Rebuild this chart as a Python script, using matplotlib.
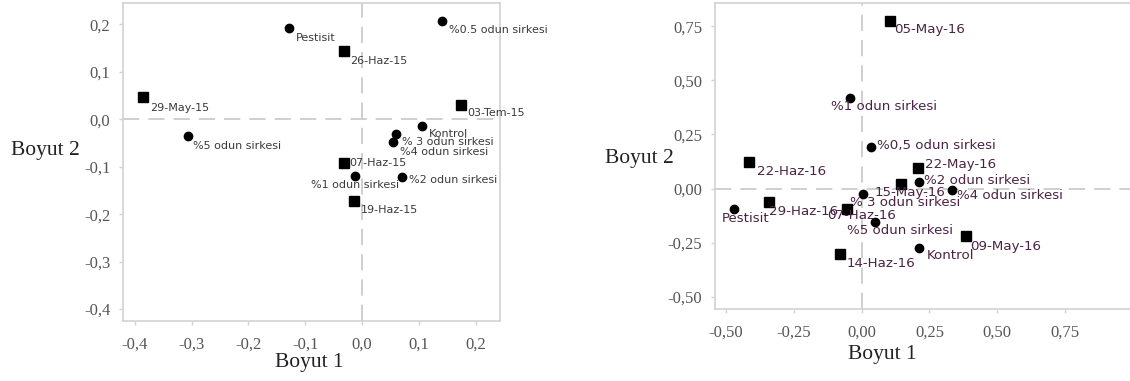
import matplotlib
matplotlib.use("Agg")
import matplotlib.pyplot as plt
from matplotlib.ticker import FuncFormatter

# ---- 2015 verisi (sol grafik) ----
tarih15 = ["29-May-15", "07-Haz-15", "19-Haz-15", "26-Haz-15", "03-Tem-15"]
tarih15_x = [-0.386, -0.032, -0.015, -0.032, 0.175]
tarih15_y = [0.048, -0.093, -0.173, 0.144, 0.030]

uygulama15 = ["Pestisit", "%0.5 odun sirkesi", "Kontrol", "% 3 odun sirkesi",
               "%4 odun sirkesi", "%5 odun sirkesi", "%1 odun sirkesi", "%2 odun sirkesi"]
uygulama15_x = [-0.128, 0.141, 0.105, 0.060, 0.055, -0.306, -0.012, 0.070]
uygulama15_y = [0.192, 0.207, -0.014, -0.032, -0.047, -0.035, -0.119, -0.121]

# ---- 2016 verisi (sag grafik) ----
tarih16 = ["05-May-16", "09-May-16", "15-May-16", "22-May-16", "07-Haz-16",
           "14-Haz-16", "22-Haz-16", "29-Haz-16"]
tarih16_x = [0.104, 0.384, 0.145, 0.207, -0.055, -0.079, -0.416, -0.343]
tarih16_y = [0.776, -0.220, 0.022, 0.094, -0.093, -0.304, 0.122, -0.060]

uygulama16 = ["%1 odun sirkesi", "%0,5 odun sirkesi", "%2 odun sirkesi", "%4 odun sirkesi",
              "% 3 odun sirkesi", "Pestisit", "%5 odun sirkesi", "Kontrol"]
uygulama16_x = [-0.043, 0.034, 0.213, 0.333, 0.006, -0.470, 0.049, 0.213]
uygulama16_y = [0.420, 0.190, 0.030, -0.007, -0.025, -0.093, -0.156, -0.273]

# etiket ofsetleri (piksel, noktaya gore)
ofset15_t = [(7, -11), (5, 0), (7, -9), (6, -10), (6, -8)]
ofset15_u = [(7, -10), (7, -9), (7, -8), (6, -8), (7, -10), (5, -10), (0, -9), (7, -3)]
ofset16_t = [(4, -9), (4, -10), (-26, -9), (7, 4), (-20, -7), (6, -9), (8, -9), (0, -10)]
ofset16_u = [(-19, -9), (6, 2), (5, 2), (5, -5), (-13, -9), (-12, -10), (-28, -8), (7, -8)]

DPI = 100
fig = plt.figure(figsize=(11.3, 3.81), dpi=DPI)

serif = ["Liberation Serif", "DejaVu Serif"]
gri = "#d2d2d2"


def eksen_hazirla(ax, xlim, ylim, xticks, yticks, fmt):
    ax.set_xlim(*xlim)
    ax.set_ylim(*ylim)
    ax.set_xticks(xticks)
    ax.set_yticks(yticks)
    f = FuncFormatter(lambda v, p: (fmt % v).replace(".", ",").replace("−", "-"))
    ax.xaxis.set_major_formatter(f)
    ax.yaxis.set_major_formatter(f)
    for s in ax.spines.values():
        s.set_color(gri)
        s.set_linewidth(1.2)
    ax.tick_params(colors=gri, length=3, width=1, labelcolor="#555555", labelsize=12)
    ax.tick_params(axis="x", pad=8)
    ax.tick_params(axis="y", pad=6)
    for lab in ax.get_xticklabels() + ax.get_yticklabels():
        lab.set_family(serif)
    ax.axhline(0, color="#cccccc", lw=1.3, dashes=(9, 5), zorder=0)
    ax.axvline(0, color="#cccccc", lw=1.3, dashes=(9, 5), zorder=0)


def etiketle(ax, adlar, xs, ys, ofsetler, renk, boyut, ha_list=None):
    for i, (ad, x, y, (dx, dy)) in enumerate(zip(adlar, xs, ys, ofsetler)):
        ha = "left"
        if ha_list is not None:
            ha = ha_list[i]
        ax.annotate(ad, (x, y), xytext=(dx * 72 / DPI, dy * 72 / DPI),
                    textcoords="offset points", ha=ha, va="center",
                    fontsize=boyut, color=renk, family=["DejaVu Sans"])


# ---------------- sol grafik ----------------
ax1 = fig.add_axes([123 / 1130, 1 - 321 / 381, 377 / 1130, 318 / 381])
eksen_hazirla(ax1, (-0.421, 0.243), (-0.425, 0.245),
              [-0.4, -0.3, -0.2, -0.1, 0.0, 0.1, 0.2],
              [-0.4, -0.3, -0.2, -0.1, 0.0, 0.1, 0.2], "%.1f")
ax1.plot(tarih15_x, tarih15_y, "s", color="black", ms=6.5, ls="none")
ax1.plot(uygulama15_x, uygulama15_y, "o", color="black", ms=6, ls="none")
etiketle(ax1, tarih15, tarih15_x, tarih15_y, ofset15_t, "#3a3a3a", 8)
ha15 = ["left"] * len(uygulama15)
ha15[uygulama15.index("%1 odun sirkesi")] = "center"
etiketle(ax1, uygulama15, uygulama15_x, uygulama15_y, ofset15_u, "#3a3a3a", 8, ha15)

fig.text(45 / 1130, 1 - 150 / 381, "Boyut 2", ha="center", va="center",
         fontsize=15.5, family=serif, color="#222222")
fig.text(309 / 1130, 1 - 363 / 381, "Boyut 1", ha="center", va="center",
         fontsize=15.5, family=serif, color="#222222")

# ---------------- sag grafik ----------------
ax2 = fig.add_axes([715 / 1130, 1 - 309 / 381, 1 - 715 / 1130, 306 / 381])
eksen_hazirla(ax2, (-0.541, 0.99), (-0.557, 0.858),
              [-0.50, -0.25, 0.00, 0.25, 0.50, 0.75],
              [-0.50, -0.25, 0.00, 0.25, 0.50, 0.75], "%.2f")
ax2.spines["right"].set_visible(False)
ax2.plot(tarih16_x, tarih16_y, "s", color="black", ms=6.5, ls="none")
ax2.plot(uygulama16_x, uygulama16_y, "o", color="black", ms=6, ls="none")
etiketle(ax2, tarih16, tarih16_x, tarih16_y, ofset16_t, "#4a2444", 9.6)
etiketle(ax2, uygulama16, uygulama16_x, uygulama16_y, ofset16_u, "#4a2444", 9.6)

fig.text(639 / 1130, 1 - 158 / 381, "Boyut 2", ha="center", va="center",
         fontsize=15.5, family=serif, color="#222222")
fig.text(882 / 1130, 1 - 355 / 381, "Boyut 1", ha="center", va="center",
         fontsize=15.5, family=serif, color="#222222")

fig.savefig("out.png", dpi=DPI)
